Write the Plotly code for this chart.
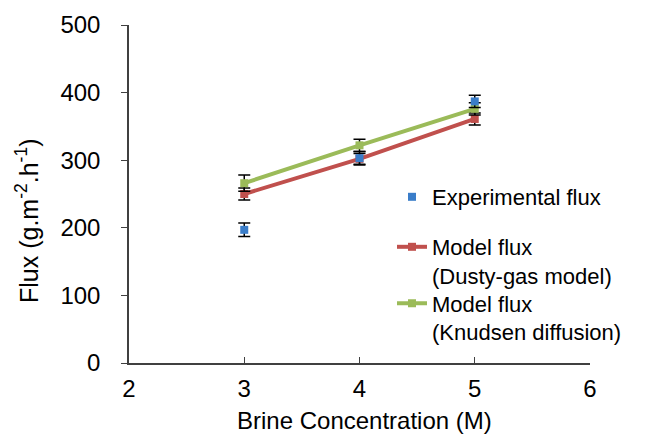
import plotly.graph_objects as go

conc = [3, 4, 5]
exp_flux = [197, 303, 387]
exp_err = [10, 10, 9]
dusty_flux = [250, 302, 361]
dusty_err = [9, 8, 9]
knudsen_flux = [266, 322, 376]
knudsen_err = [12, 9, 9]

x_ticks = [2, 3, 4, 5, 6]
y_ticks = [0, 100, 200, 300, 400, 500]

FONT = "Liberation Sans, Arial, sans-serif"

fig = go.Figure()
fig.add_trace(go.Scatter(
    x=conc, y=dusty_flux, mode="lines+markers",
    name="Model flux<br>(Dusty-gas model)",
    line=dict(color="#c0504d", width=4),
    marker=dict(symbol="square", size=8, color="#c0504d"),
    error_y=dict(type="data", array=dusty_err, color="black", thickness=1.5, width=6),
    legend="legend2",
))
fig.add_trace(go.Scatter(
    x=conc, y=knudsen_flux, mode="lines+markers",
    name="Model flux<br>(Knudsen diffusion)",
    line=dict(color="#9bbb59", width=4),
    marker=dict(symbol="square", size=8, color="#9bbb59"),
    error_y=dict(type="data", array=knudsen_err, color="black", thickness=1.5, width=6),
    legend="legend3",
))
fig.add_trace(go.Scatter(
    x=conc, y=exp_flux, mode="markers",
    name="Experimental flux",
    marker=dict(symbol="square", size=8, color="#3a7dc9"),
    error_y=dict(type="data", array=exp_err, color="black", thickness=1.5, width=6),
    legend="legend",
))

# page body has an 8px margin; plot area spans x 129..590, y 25..363 on screen
PX0, PY0, PW, PH = 129, 363, 461, 338
def px(x):
    return (x - PX0) / PW
def py(y):
    return (PY0 - y) / PH

leg_common = dict(xanchor="left", font=dict(size=22, family=FONT),
                  bgcolor="rgba(0,0,0,0)", valign="top")

fig.update_layout(
    width=656, height=444,
    margin=dict(l=121, r=74, t=17, b=89, autoexpand=False),
    paper_bgcolor="white", plot_bgcolor="white",
    font=dict(family=FONT, size=24, color="black"),
    showlegend=True,
    legend=dict(x=px(392), y=py(197), yanchor="middle", **leg_common),
    legend2=dict(x=px(392), y=py(226), yanchor="top", **leg_common),
    legend3=dict(x=px(392), y=py(282.5), yanchor="top", **leg_common),
    xaxis=dict(
        range=[2, 6], tickvals=x_ticks, ticks="inside", ticklen=6,
        tickcolor="#404040", showline=True, linecolor="#404040", linewidth=1.5,
        showgrid=False, zeroline=False, ticklabelstandoff=3, automargin=False,
    ),
    yaxis=dict(
        range=[0, 500], tickvals=y_ticks, ticks="outside", ticklen=6,
        tickcolor="#404040", showline=True, linecolor="#404040", linewidth=1.5,
        showgrid=False, zeroline=False, ticklabelstandoff=16, automargin=False,
    ),
    annotations=[
        dict(text="Brine Concentration (M)", xref="paper", yref="paper",
             x=px(364), y=py(420), xanchor="center", yanchor="middle",
             showarrow=False, font=dict(size=24, family=FONT, color="black")),
        dict(text="Flux (g.m<sup>-2</sup>.h<sup>-1</sup>)", xref="paper", yref="paper",
             x=px(27), y=py(221), xanchor="center", yanchor="middle",
             textangle=-90, showarrow=False, font=dict(size=25, family=FONT, color="black")),
    ],
)

fig.write_html("out.html")
